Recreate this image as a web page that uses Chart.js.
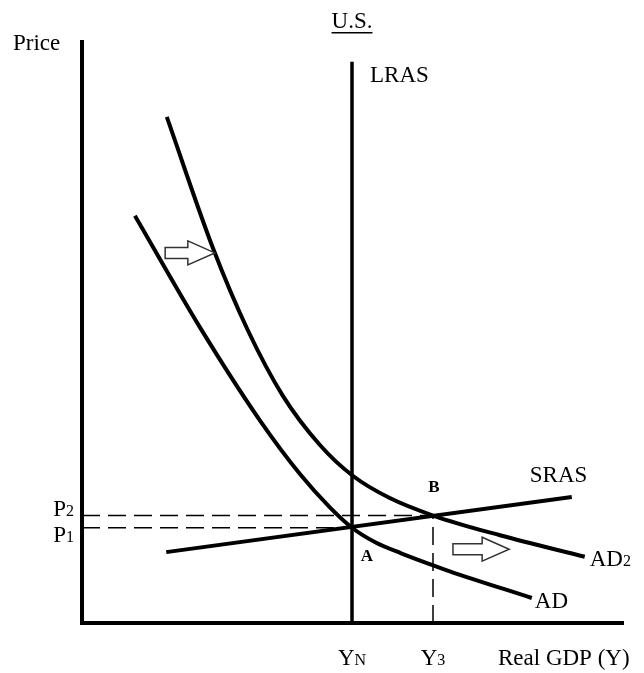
<!DOCTYPE html>
<html>
<head>
<meta charset="utf-8">
<script src="https://cdn.jsdelivr.net/npm/chart.js@4.4.1/dist/chart.umd.min.js"></script>
<style>
  html, body { margin: 0; padding: 0; background: #fff; }
</style>
</head>
<body>
<canvas id="chart" width="644" height="673"></canvas>
<script>
// output on x, price level on y (arbitrary units, 0-100)
const adX  = [9.8, 21.9, 33.0, 40.4, 45.9, 50.0, 54.3, 59.1, 64.8, 68.1, 83.3];
const adY  = [70.1, 50.8, 34.8, 25.6, 19.9, 16.4, 13.9, 12.0, 10.0, 8.9, 4.3];
const ad2X = [15.7, 24.3, 30.6, 37.2, 44.1, 50.2, 57.0, 65.0, 77.4, 93.1];
const ad2Y = [87.1, 64.4, 50.6, 39.1, 30.6, 25.3, 21.5, 18.5, 15.1, 11.4];
const srasX = [15.6, 90.7];
const srasY = [12.2, 21.7];
const lrasX = 50;
const lrasTop = 96.6;
const priceLevels = [16.4, 18.5];   // P1, P2
const outputLevels = [50, 65];      // YN, Y3
// shift arrows: [tail x, tip x, y]
const shiftArrows = [[15.4, 24.6, 63.7], [68.7, 79.1, 12.7]];

const pts = (xs, ys) => xs.map((x, i) => ({ x: x, y: ys[i] }));

const SERIF = '"Liberation Serif", "Times New Roman", serif';
const big = '23px ' + SERIF;
const small = '16px ' + SERIF;
const bold = 'bold 17px ' + SERIF;

function drawText(ctx, parts, x, y, align) {
  let w = 0;
  parts.forEach(p => { ctx.font = p[1]; w += ctx.measureText(p[0]).width; });
  let cx = align === 'center' ? x - w / 2 : align === 'right' ? x - w : x;
  ctx.textAlign = 'left';
  ctx.textBaseline = 'alphabetic';
  parts.forEach(p => {
    ctx.font = p[1];
    ctx.fillText(p[0], cx, y);
    cx += ctx.measureText(p[0]).width;
  });
}

function hollowArrow(ctx, x0, x1, yc) {
  const head = 27, bh = 5.5, hh = 12;
  ctx.beginPath();
  ctx.moveTo(x0, yc - bh);
  ctx.lineTo(x1 - head, yc - bh);
  ctx.lineTo(x1 - head, yc - hh);
  ctx.lineTo(x1, yc);
  ctx.lineTo(x1 - head, yc + hh);
  ctx.lineTo(x1 - head, yc + bh);
  ctx.lineTo(x0, yc + bh);
  ctx.closePath();
  ctx.fillStyle = '#fff';
  ctx.fill();
  ctx.lineWidth = 1.5;
  ctx.strokeStyle = '#333';
  ctx.stroke();
}

const annotations = {
  id: 'annotations',
  afterDatasetsDraw(chart) {
    const ctx = chart.ctx;
    const xs = chart.scales.x, ys = chart.scales.y;
    const px = v => xs.getPixelForValue(v);
    const py = v => ys.getPixelForValue(v);
    ctx.save();

    shiftArrows.forEach(a => hollowArrow(ctx, px(a[0]), px(a[1]), py(a[2])));

    ctx.fillStyle = '#000';
    const x0 = px(0), y0 = py(0), yTop = py(100);

    drawText(ctx, [['Price', big]], x0 - 69, yTop + 8, 'left');
    drawText(ctx, [['U.S.', big]], px(lrasX), yTop - 14, 'center');
    ctx.font = big;
    const usW = ctx.measureText('U.S.').width;
    ctx.fillRect(px(lrasX) - usW / 2, yTop - 10, usW, 1.5);

    drawText(ctx, [['LRAS', big]], px(lrasX) + 18, py(lrasTop) + 20, 'left');
    drawText(ctx, [['SRAS', big]], px(srasX[1]) - 42, py(srasY[1]) - 15, 'left');
    drawText(ctx, [['AD', big]], px(adX[adX.length - 1]) + 3, py(adY[adY.length - 1]) + 10, 'left');
    drawText(ctx, [['AD', big], ['2', small]], px(ad2X[ad2X.length - 1]) + 5, py(ad2Y[ad2Y.length - 1]) + 9, 'left');

    drawText(ctx, [['A', bold]], px(outputLevels[0]) + 15, py(priceLevels[0]) + 33, 'center');
    drawText(ctx, [['B', bold]], px(outputLevels[1]) + 1, py(priceLevels[1]) - 24, 'center');

    drawText(ctx, [['P', big], ['2', small]], x0 - 8, py(priceLevels[1]), 'right');
    drawText(ctx, [['P', big], ['1', small]], x0 - 8, py(priceLevels[0]) + 14, 'right');

    drawText(ctx, [['Y', big], ['N', small]], px(outputLevels[0]), y0 + 42, 'center');
    drawText(ctx, [['Y', big], ['3', small]], px(outputLevels[1]), y0 + 42, 'center');
    drawText(ctx, [['Real GDP (Y)', big]], px(100) - 124, y0 + 42, 'left');

    ctx.restore();
  }
};

const solid = { borderColor: '#000', pointRadius: 0, showLine: true, clip: false, fill: false };
const dashed = { borderColor: '#000', borderWidth: 1.5, borderDash: [18, 8], pointRadius: 0, showLine: true, clip: false, fill: false };

new Chart(document.getElementById('chart'), {
  type: 'scatter',
  data: {
    datasets: [
      Object.assign({ label: 'P2 guide', data: [{ x: 0, y: priceLevels[1] }, { x: outputLevels[1], y: priceLevels[1] }] }, dashed),
      Object.assign({ label: 'P1 guide', data: [{ x: 0, y: priceLevels[0] }, { x: outputLevels[0], y: priceLevels[0] }] }, dashed),
      Object.assign({ label: 'Y3 guide', data: [{ x: outputLevels[1], y: 0 }, { x: outputLevels[1], y: priceLevels[1] }] }, dashed),
      Object.assign({ label: 'y axis', data: [{ x: 0, y: 0 }, { x: 0, y: 100 }], borderWidth: 4, borderCapStyle: 'square' }, solid),
      Object.assign({ label: 'x axis', data: [{ x: 0, y: 0 }, { x: 100, y: 0 }], borderWidth: 4, borderCapStyle: 'square' }, solid),
      Object.assign({ label: 'LRAS', data: [{ x: lrasX, y: 0 }, { x: lrasX, y: lrasTop }], borderWidth: 3.5 }, solid),
      Object.assign({ label: 'SRAS', data: pts(srasX, srasY), borderWidth: 4 }, solid),
      Object.assign({ label: 'AD', data: pts(adX, adY), borderWidth: 4, cubicInterpolationMode: 'monotone' }, solid),
      Object.assign({ label: 'AD2', data: pts(ad2X, ad2Y), borderWidth: 4, cubicInterpolationMode: 'monotone' }, solid)
    ]
  },
  options: {
    responsive: false,
    devicePixelRatio: 1,
    animation: false,
    layout: { padding: { left: 82, right: 22, top: 42, bottom: 50 } },
    plugins: { legend: { display: false }, tooltip: { enabled: false } },
    scales: {
      x: { type: 'linear', min: 0, max: 100, display: false },
      y: { type: 'linear', min: 0, max: 100, display: false }
    }
  },
  plugins: [annotations]
});
</script>
</body>
</html>
